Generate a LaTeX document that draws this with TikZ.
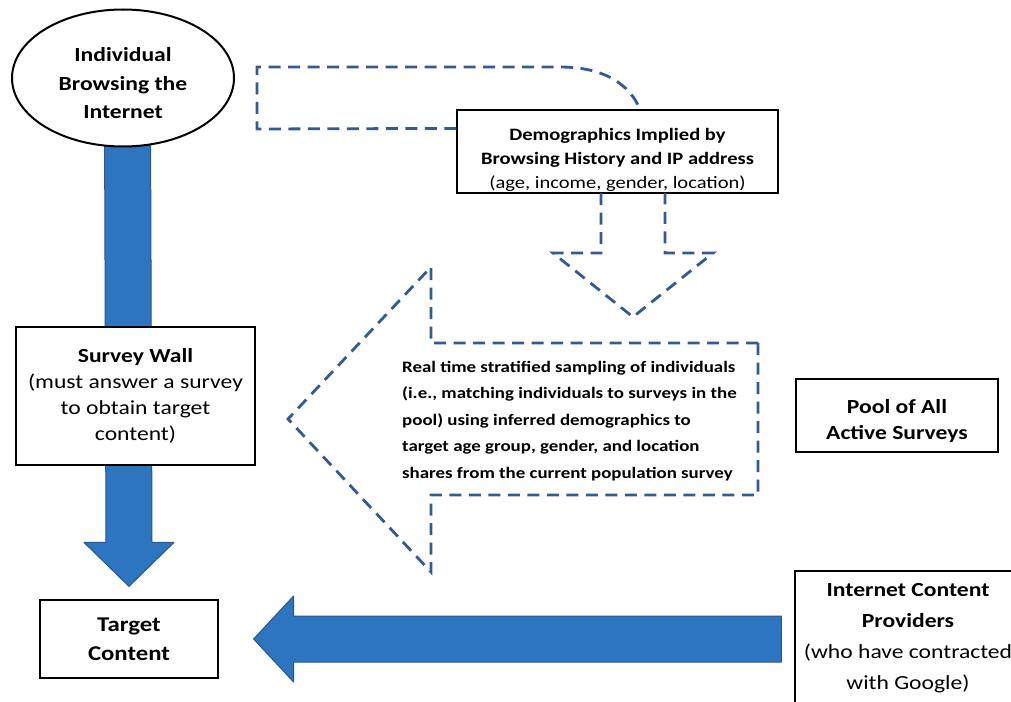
\documentclass[tikz,border=0pt]{standalone}
\usepackage{fontspec}
\setmainfont{Carlito}[FakeStretch=1.18]
\usetikzlibrary{positioning,calc,backgrounds}

\definecolor{arrowblue}{RGB}{46,117,192}
\definecolor{arrowedge}{RGB}{40,86,146}
\definecolor{dashblue}{RGB}{50,90,150}

\tikzset{
  box/.style={draw,line width=1.2pt,fill=white,align=center,inner sep=2pt},
  boxtext/.style={align=center,inner sep=0pt},
  bigarrow/.style={fill=arrowblue,draw=arrowedge,line width=1pt,line join=round},
  dasharrow/.style={draw=dashblue,line width=2.8pt,dash pattern=on 12pt off 7.5pt}
}

\begin{document}
\begin{tikzpicture}[x=1pt,y=-1pt]
\useasboundingbox (0,0) rectangle (1011,701);

% individual
\coordinate (indc) at (123,78);
\draw[line width=2pt,fill=white] (indc) ellipse [x radius=111,y radius=68.5];
\node[boxtext,font=\fontsize{20}{28.5}\selectfont\bfseries] (ind) at ($(indc)+(0,5.5)$)
      {Individual\\Browsing the\\Internet};

% boxes
\node[box,minimum width=321pt,minimum height=83pt] (demo) at (617.5,151.5) {};
\node[boxtext,font=\fontsize{17.4}{24}\selectfont] (demotext) at ($(demo.center)+(0,8)$)
      {\textbf{Demographics Implied by}\\\textbf{Browsing History and IP address}\\(age, income, gender, location)};
\node[box,minimum width=239pt,minimum height=138pt,font=\fontsize{20}{26}\selectfont] (wall) at (135.5,396)
      {\textbf{Survey Wall}\\(must answer a survey\\to obtain target\\content)};
\node[box,minimum width=178pt,minimum height=78pt,font=\fontsize{21}{29}\selectfont\bfseries] (target) at (129,639)
      {Target\\Content};
\node[box,minimum width=202pt,minimum height=73pt] (pool) at (897,415.5) {};
\node[boxtext,font=\fontsize{20}{26}\selectfont\bfseries] (pooltext) at ($(pool.center)+(0,6)$)
      {Pool of All\\Active Surveys};
\node[box,minimum width=226pt,minimum height=134pt,font=\fontsize{20}{31}\selectfont] (icp) at (908,638)
      {\textbf{Internet Content}\\\textbf{Providers}\\(who have contracted\\with Google)};
\node[align=left,anchor=west,inner sep=0pt,font=\fontsize{16}{26.5}\selectfont\bfseries] (strat) at (402,421)
      {Real time stratified sampling of individuals\\
       (i.e., matching individuals to surveys in the\\
       pool) using inferred demographics to\\
       target age group, gender, and location\\
       shares from the current population survey};

% tips of the arrows
\coordinate (vtip) at ($(target.north)+(0,-13)$);
\coordinate (htip) at ($(target.east)+(35,0)$);
\coordinate (dtip) at (633,317);
\coordinate (ltip) at (288,419);

\begin{scope}[on background layer]
  \draw[bigarrow] (vtip) -- ++(45,-44) -- ++(-22,0) -- ($(indc |- ind.south)+(27.5,0)$)
    -- ++(-46,0) -- ($(vtip)+(-23,-44)$) -- ++(-22,0) -- cycle;
  \draw[bigarrow] (htip) -- ++(40,-43) -- ++(0,20) -- ($(icp.west |- htip)+(-13,-23)$)
    -- ++(0,46) -- ($(htip)+(40,23)$) -- ++(0,20) -- cycle;
\end{scope}

% dashed feedback and arrows
\draw[dasharrow] ($(demo.north west)+(0,19)$) -- (257,129) -- (257,67) -- (560,67)
  .. controls (605,67) and (630,85) .. ($(demo.north)+(22.5,0)$);
\draw[dasharrow] ($(dtip)+(-32,-124)$) -- ++(0,60) -- ++(-48,0) -- (dtip)
  -- ++(80,-64) -- ++(-48,0) -- ++(0,-60);
\draw[dasharrow] (758,343) -- (431,343) -- (431,267) -- (ltip) -- (431,572)
  -- (431,495) -- (758,495) -- cycle;
\end{tikzpicture}
\end{document}
